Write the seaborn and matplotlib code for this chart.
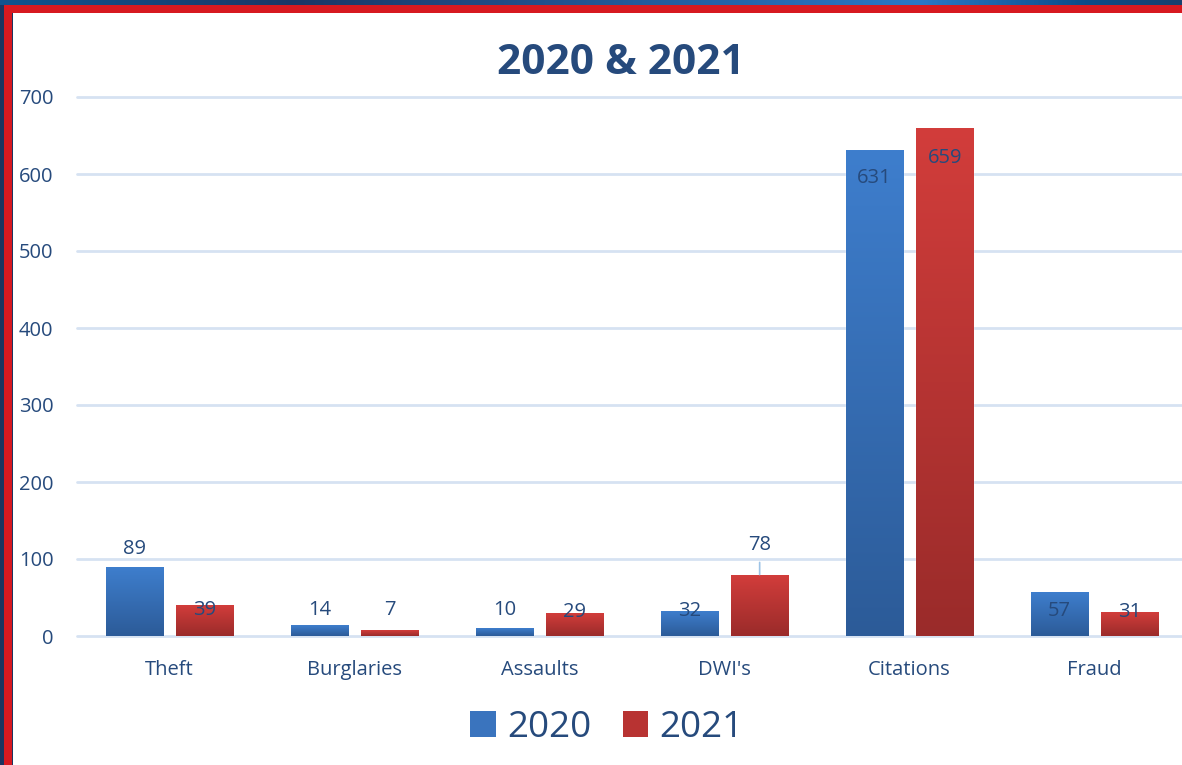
import numpy as np
import pandas as pd
import matplotlib
matplotlib.use('Agg')
import matplotlib.pyplot as plt
import matplotlib.patheffects as pe
from matplotlib.colors import LinearSegmentedColormap
from matplotlib.patches import Rectangle, Patch
import seaborn as sns

# --- data ---
categories = ['Theft', 'Burglaries', 'Assaults', "DWI's", 'Citations', 'Fraud']
years = ['2020', '2021']
counts_2020 = [89, 14, 10, 32, 631, 57]
counts_2021 = [39, 7, 29, 78, 659, 31]
y_ticks = [0, 100, 200, 300, 400, 500, 600, 700]

# label offsets from bar top, in pixels (Excel-style placement)
label_offsets_2020 = [18, 15, 18, 0, -28, -19]
label_offsets_2021 = [-4, 21, 2, 31, -29, 0]

df = pd.DataFrame({'category': categories, '2020': counts_2020, '2021': counts_2021})
df = df.melt(id_vars='category', var_name='year', value_name='count')

text_color = '#264A7C'
grid_color = '#D6E2F2'
blue_grad = ['#3E7ECD', '#2C5B98']
red_grad = ['#D23D3B', '#9A2B2A']

sns.set_style('white')
plt.rcParams['font.family'] = ['Open Sans', 'DejaVu Sans']

fig = plt.figure(figsize=(11.82, 7.65), dpi=100)
ax = fig.add_axes([77 / 1182, (765 - 636) / 765, 1110 / 1182, 539 / 765])

sns.barplot(data=df, x='category', y='count', hue='year', order=categories,
            hue_order=years, palette=[blue_grad[0], red_grad[0]],
            width=0.76, gap=0.18, legend=False, ax=ax, zorder=3)

# gridlines
for t in y_ticks:
    ax.axhline(t, color=grid_color, lw=2, zorder=1, clip_on=False)

# gradient bars with soft shadow
for container, grad, offsets in zip(ax.containers, [blue_grad, red_grad],
                                    [label_offsets_2020, label_offsets_2021]):
    cmap = LinearSegmentedColormap.from_list('g', grad)
    for bar, off in zip(container, offsets):
        bar.set_path_effects([pe.SimplePatchShadow(offset=(0, -3), shadow_rgbFace='#7F7F7F', alpha=0.35),
                              pe.Normal()])
        x, w, h = bar.get_x(), bar.get_width(), bar.get_height()
        ax.imshow(np.linspace(0, 1, 256).reshape(-1, 1), extent=[x, x + w, 0, h],
                  aspect='auto', cmap=cmap, zorder=4, origin='upper')
        cx = x + w / 2
        if off > 25:
            # label with a leader line
            ax.annotate(f'{int(h)}', xy=(cx, h), xytext=(0, off), textcoords='offset pixels',
                        ha='center', va='center', fontsize=14.5, color=text_color, zorder=6,
                        arrowprops=dict(arrowstyle='-', color='#9DC3E6', lw=1.2,
                                        shrinkA=3, shrinkB=1))
        else:
            ax.annotate(f'{int(h)}', xy=(cx, h), xytext=(0, off), textcoords='offset pixels',
                        ha='center', va='center', fontsize=14.5, color=text_color, zorder=6)

ax.set_xlim(-0.5, 5.5)
ax.set_ylim(0, 700)
ax.set_yticks(y_ticks)
ax.set_xlabel('')
ax.set_ylabel('')
for s in ax.spines.values():
    s.set_visible(False)
ax.tick_params(axis='y', length=0, pad=17, labelsize=14.5, labelcolor=text_color)
ax.tick_params(axis='x', length=0, pad=17, labelsize=14.5, labelcolor=text_color)

# title
fig.text(621 / 1182, 1 - 64 / 765, '2020 & 2021', ha='center', va='center',
         fontsize=30.5, fontweight='bold', color=text_color)

# legend
handles = [Patch(facecolor='#3A74BE', edgecolor='none', label='2020'),
           Patch(facecolor='#B83332', edgecolor='none', label='2021')]
fig.legend(handles=handles, loc='center', bbox_to_anchor=(607 / 1182, 1 - 728 / 765),
           ncol=2, frameon=False, fontsize=26.5, labelcolor=text_color,
           handlelength=0.7, handleheight=0.7, handletextpad=0.3, columnspacing=0.85)

# frame: gradient blue band on top, red bands on top and left
top_ax = fig.add_axes([0, 1 - 5 / 765, 1, 5 / 765])
band_cmap = LinearSegmentedColormap.from_list(
    'band', [(0, '#0F548F'), (0.25, '#1B3766'), (0.78, '#2A78C6'), (0.92, '#0B4C88'), (1, '#17406E')])
top_ax.imshow(np.linspace(0, 1, 512).reshape(1, -1), aspect='auto', cmap=band_cmap)
top_ax.axis('off')
fig.patches.append(Rectangle((0, 1 - 13 / 765), 1, 8 / 765, transform=fig.transFigure,
                             facecolor='#D71920', edgecolor='none', zorder=5))
fig.patches.append(Rectangle((0, 0), 4 / 1182, 1 - 5 / 765, transform=fig.transFigure,
                             facecolor='#1B3560', edgecolor='none', zorder=5))
fig.patches.append(Rectangle((4 / 1182, 0), 8 / 1182, 1 - 5 / 765, transform=fig.transFigure,
                             facecolor='#D71920', edgecolor='none', zorder=5))
fig.patches.append(Rectangle((12 / 1182, 0), 1.5 / 1182, 1 - 13 / 765, transform=fig.transFigure,
                             facecolor='#1B3560', edgecolor='none', zorder=5))

fig.savefig('out.png', dpi=100)
